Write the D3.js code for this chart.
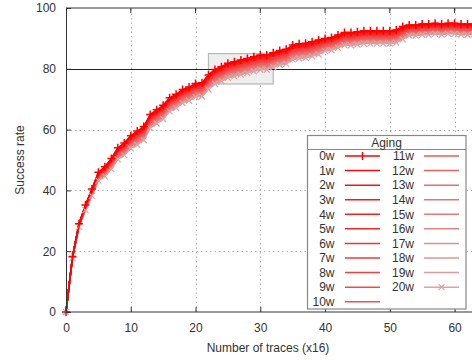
<!DOCTYPE html>
<html>
<head>
<meta charset="utf-8">
<script src="https://cdn.jsdelivr.net/npm/d3@7"></script>
<style>
  body { margin: 0; background: #fff; }
  svg { display: block; font-family: "Liberation Sans", Arial, sans-serif; }
</style>
</head>
<body>
<svg id="chart" width="472" height="360"></svg>
<script>
// x positions (number of traces, x16)
const traces = d3.range(0, 64);

// success rate per aging week
const aging0w  = [0,18.2,29,35.2,40.5,46,47.8,50.5,54,55.6,58, 59.5,61,65,66.5,68,70.5,71.6,73.2,74,75.2,75.4, 78,79.8,80.7,81.8,82.3,82.9,83.4,84,84.5,84.5,85.3,86,86.4,87.8,88.2,88.4,88.9,89.5, 90,90.3,91.1,91.9,91.9,92.2,92.5,92.5,92.5,92.5,92.5,92.8,93.9, 94.4,94.4,94.7,94.7,95,94.7,95,95,94.7,94.7,94.8];
const aging1w  = [0,18.2,28.9,35.1,40.4,45.9,47.6,50.3,53.8,55.4,57.8, 59.3,60.8,64.8,66.3,67.8,70.3,71.4,73,73.8,75,75.2, 77.8,79.6,80.5,81.6,82.1,82.7,83.2,83.8,84.3,84.3,85.1,85.8,86.2,87.6,88,88.2,88.7,89.3, 89.8,90.1,90.9,91.7,91.7,92,92.3,92.3,92.3,92.3,92.3,92.6,93.7, 94.2,94.2,94.5,94.5,94.8,94.5,94.8,94.8,94.5,94.5,94.6];
const aging2w  = [0,18.1,28.9,35,40.3,45.7,47.5,50.1,53.6,55.2,57.6, 59,60.5,64.5,66,67.5,70,71.1,72.7,73.5,74.7,74.9, 77.5,79.3,80.2,81.3,81.8,82.4,82.9,83.5,84,84,84.8,85.5,85.9,87.3,87.7,87.9,88.4,89, 89.6,89.9,90.7,91.5,91.5,91.8,92.1,92.1,92.1,92.1,92.1,92.4,93.5, 94,94,94.3,94.3,94.6,94.3,94.6,94.6,94.3,94.3,94.4];
const aging3w  = [0,18.1,28.8,34.9,40.2,45.6,47.3,50,53.4,55,57.4, 58.8,60.3,64.3,65.8,67.3,69.8,70.9,72.5,73.3,74.5,74.7, 77.3,79.1,80,81.1,81.6,82.2,82.7,83.3,83.8,83.8,84.6,85.3,85.7,87.1,87.5,87.7,88.2,88.8, 89.4,89.7,90.5,91.3,91.3,91.6,91.9,91.9,91.9,91.9,91.9,92.2,93.3, 93.9,93.9,94.2,94.2,94.5,94.2,94.5,94.5,94.2,94.2,94.3];
const aging4w  = [0,18.1,28.8,34.9,40,45.4,47.2,49.8,53.2,54.8,57.2, 58.6,60.1,64.1,65.6,67.1,69.6,70.7,72.3,73.1,74.3,74.5, 77,78.8,79.7,80.8,81.3,81.9,82.4,83,83.5,83.5,84.3,85,85.4,86.8,87.2,87.4,87.9,88.5, 89.2,89.5,90.3,91.1,91.1,91.4,91.7,91.7,91.7,91.7,91.7,92,93.1, 93.7,93.7,94,94,94.3,94,94.3,94.3,94,94,94.1];
const aging5w  = [0,18.1,28.7,34.8,39.9,45.3,47,49.6,53,54.6,56.9, 58.4,59.9,63.9,65.4,66.9,69.4,70.5,72.1,72.9,74.1,74.3, 76.8,78.6,79.5,80.6,81.1,81.7,82.2,82.8,83.3,83.3,84.1,84.8,85.2,86.6,87,87.2,87.7,88.3, 88.9,89.2,90,90.8,90.8,91.1,91.4,91.4,91.4,91.4,91.4,91.7,92.8, 93.5,93.5,93.8,93.8,94.1,93.8,94.1,94.1,93.8,93.8,93.9];
const aging6w  = [0,18,28.7,34.7,39.8,45.2,46.8,49.4,52.9,54.4,56.7, 58.1,59.6,63.6,65.1,66.6,69.1,70.2,71.8,72.6,73.8,74, 76.6,78.4,79.3,80.4,80.9,81.5,82,82.6,83.1,83.1,83.9,84.6,85,86.4,86.8,87,87.5,88.1, 88.7,89,89.8,90.6,90.6,90.9,91.2,91.2,91.2,91.2,91.2,91.5,92.6, 93.3,93.3,93.6,93.6,93.9,93.6,93.9,93.9,93.6,93.6,93.7];
const aging7w  = [0,18,28.6,34.6,39.7,45,46.7,49.3,52.7,54.2,56.5, 57.9,59.4,63.4,64.9,66.4,68.9,70,71.6,72.4,73.6,73.8, 76.3,78.1,79,80.1,80.6,81.2,81.7,82.3,82.8,82.8,83.6,84.3,84.7,86.1,86.5,86.7,87.2,87.8, 88.5,88.8,89.6,90.4,90.4,90.7,91,91,91,91,91,91.3,92.4, 93.2,93.2,93.5,93.5,93.8,93.5,93.8,93.8,93.5,93.5,93.6];
const aging8w  = [0,18,28.6,34.5,39.6,44.9,46.5,49.1,52.5,54,56.3, 57.7,59.2,63.2,64.7,66.2,68.7,69.8,71.4,72.2,73.4,73.6, 76.1,77.9,78.8,79.9,80.4,81,81.5,82.1,82.6,82.6,83.4,84.1,84.5,85.9,86.3,86.5,87,87.6, 88.3,88.6,89.4,90.2,90.2,90.5,90.8,90.8,90.8,90.8,90.8,91.1,92.2, 93,93,93.3,93.3,93.6,93.3,93.6,93.6,93.3,93.3,93.4];
const aging9w  = [0,18,28.5,34.4,39.5,44.7,46.4,48.9,52.3,53.8,56.1, 57.5,59,63,64.5,66,68.5,69.6,71.2,72,73.2,73.4, 75.8,77.6,78.5,79.6,80.1,80.7,81.2,81.8,82.3,82.3,83.1,83.8,84.2,85.6,86,86.2,86.7,87.3, 88.1,88.4,89.2,90,90,90.3,90.6,90.6,90.6,90.6,90.6,90.9,92, 92.8,92.8,93.1,93.1,93.4,93.1,93.4,93.4,93.1,93.1,93.2];
const aging10w = [0,17.9,28.5,34.3,39.3,44.6,46.2,48.7,52.1,53.6,55.9, 57.2,58.7,62.7,64.2,65.7,68.2,69.3,70.9,71.7,72.9,73.1, 75.6,77.4,78.3,79.4,79.9,80.5,81,81.6,82.1,82.1,82.9,83.6,84,85.4,85.8,86,86.5,87.1, 87.9,88.2,89,89.8,89.8,90.1,90.4,90.4,90.4,90.4,90.4,90.7,91.8, 92.6,92.6,92.9,92.9,93.2,92.9,93.2,93.2,92.9,92.9,93];
const aging11w = [0,17.9,28.4,34.3,39.2,44.5,46,48.6,51.9,53.4,55.7, 57,58.5,62.5,64,65.5,68,69.1,70.7,71.5,72.7,72.9, 75.4,77.2,78.1,79.2,79.7,80.3,80.8,81.4,81.9,81.9,82.7,83.4,83.8,85.2,85.6,85.8,86.3,86.9, 87.7,88,88.8,89.6,89.6,89.9,90.2,90.2,90.2,90.2,90.2,90.5,91.6, 92.5,92.5,92.8,92.8,93.1,92.8,93.1,93.1,92.8,92.8,92.9];
const aging12w = [0,17.9,28.4,34.2,39.1,44.3,45.9,48.4,51.7,53.2,55.5, 56.8,58.3,62.3,63.8,65.3,67.8,68.9,70.5,71.3,72.5,72.7, 75.1,76.9,77.8,78.9,79.4,80,80.5,81.1,81.6,81.6,82.4,83.1,83.5,84.9,85.3,85.5,86,86.6, 87.5,87.8,88.6,89.4,89.4,89.7,90,90,90,90,90,90.3,91.4, 92.3,92.3,92.6,92.6,92.9,92.6,92.9,92.9,92.6,92.6,92.7];
const aging13w = [0,17.9,28.3,34.1,39,44.2,45.7,48.2,51.5,53,55.3, 56.6,58.1,62.1,63.6,65.1,67.6,68.7,70.3,71.1,72.3,72.5, 74.9,76.7,77.6,78.7,79.2,79.8,80.3,80.9,81.4,81.4,82.2,82.9,83.3,84.7,85.1,85.3,85.8,86.4, 87.3,87.6,88.4,89.2,89.2,89.5,89.8,89.8,89.8,89.8,89.8,90.1,91.2, 92.1,92.1,92.4,92.4,92.7,92.4,92.7,92.7,92.4,92.4,92.5];
const aging14w = [0,17.8,28.3,34,38.9,44,45.6,48,51.3,52.8,55.1, 56.3,57.8,61.8,63.3,64.8,67.3,68.4,70,70.8,72,72.2, 74.6,76.4,77.3,78.4,78.9,79.5,80,80.6,81.1,81.1,81.9,82.6,83,84.4,84.8,85,85.5,86.1, 87.1,87.4,88.2,89,89,89.3,89.6,89.6,89.6,89.6,89.6,89.9,91, 91.9,91.9,92.2,92.2,92.5,92.2,92.5,92.5,92.2,92.2,92.3];
const aging15w = [0,17.8,28.2,33.9,38.8,43.9,45.4,47.9,51.1,52.6,54.8, 56.1,57.6,61.6,63.1,64.6,67.1,68.2,69.8,70.6,71.8,72, 74.4,76.2,77.1,78.2,78.7,79.3,79.8,80.4,80.9,80.9,81.7,82.4,82.8,84.2,84.6,84.8,85.3,85.9, 86.8,87.1,87.9,88.7,88.7,89,89.3,89.3,89.3,89.3,89.3,89.6,90.7, 91.8,91.8,92.1,92.1,92.4,92.1,92.4,92.4,92.1,92.1,92.2];
const aging16w = [0,17.8,28.2,33.8,38.7,43.8,45.2,47.7,51,52.4,54.6, 55.9,57.4,61.4,62.9,64.4,66.9,68,69.6,70.4,71.6,71.8, 74.2,76,76.9,78,78.5,79.1,79.6,80.2,80.7,80.7,81.5,82.2,82.6,84,84.4,84.6,85.1,85.7, 86.6,86.9,87.7,88.5,88.5,88.8,89.1,89.1,89.1,89.1,89.1,89.4,90.5, 91.6,91.6,91.9,91.9,92.2,91.9,92.2,92.2,91.9,91.9,92];
const aging17w = [0,17.8,28.1,33.8,38.5,43.6,45.1,47.5,50.8,52.2,54.4, 55.7,57.2,61.2,62.7,64.2,66.7,67.8,69.4,70.2,71.4,71.6, 73.9,75.7,76.6,77.7,78.2,78.8,79.3,79.9,80.4,80.4,81.2,81.9,82.3,83.7,84.1,84.3,84.8,85.4, 86.4,86.7,87.5,88.3,88.3,88.6,88.9,88.9,88.9,88.9,88.9,89.2,90.3, 91.4,91.4,91.7,91.7,92,91.7,92,92,91.7,91.7,91.8];
const aging18w = [0,17.7,28.1,33.7,38.4,43.5,44.9,47.3,50.6,52,54.2, 55.4,56.9,60.9,62.4,63.9,66.4,67.5,69.1,69.9,71.1,71.3, 73.7,75.5,76.4,77.5,78,78.6,79.1,79.7,80.2,80.2,81,81.7,82.1,83.5,83.9,84.1,84.6,85.2, 86.2,86.5,87.3,88.1,88.1,88.4,88.7,88.7,88.7,88.7,88.7,89,90.1, 91.2,91.2,91.5,91.5,91.8,91.5,91.8,91.8,91.5,91.5,91.6];
const aging19w = [0,17.7,28,33.6,38.3,43.3,44.8,47.2,50.4,51.8,54, 55.2,56.7,60.7,62.2,63.7,66.2,67.3,68.9,69.7,70.9,71.1, 73.4,75.2,76.1,77.2,77.7,78.3,78.8,79.4,79.9,79.9,80.7,81.4,81.8,83.2,83.6,83.8,84.3,84.9, 86,86.3,87.1,87.9,87.9,88.2,88.5,88.5,88.5,88.5,88.5,88.8,89.9, 91.1,91.1,91.4,91.4,91.7,91.4,91.7,91.7,91.4,91.4,91.5];
const aging20w = [0,17.7,28,33.5,38.2,43.2,44.6,47,50.2,51.6,53.8, 55,56.5,60.5,62,63.5,66,67.1,68.7,69.5,70.7,70.9, 73.2,75,75.9,77,77.5,78.1,78.6,79.2,79.7,79.7,80.5,81.2,81.6,83,83.4,83.6,84.1,84.7, 85.8,86.1,86.9,87.7,87.7,88,88.3,88.3,88.3,88.3,88.3,88.6,89.7, 90.9,90.9,91.2,91.2,91.5,91.2,91.5,91.5,91.2,91.2,91.3];

const seriesNames = ["0w","1w","2w","3w","4w","5w","6w","7w","8w","9w","10w",
  "11w","12w","13w","14w","15w","16w","17w","18w","19w","20w"];
const seriesValues = [aging0w, aging1w, aging2w, aging3w, aging4w, aging5w, aging6w,
  aging7w, aging8w, aging9w, aging10w, aging11w, aging12w, aging13w, aging14w,
  aging15w, aging16w, aging17w, aging18w, aging19w, aging20w];

const xTicks = [0, 10, 20, 30, 40, 50, 60];
const yTicks = [0, 20, 40, 60, 80, 100];
const gridX = [10, 20, 30, 40, 50, 60];
const gridY = [20, 40, 60];
const threshold = 80;
const zoomBox = {x0: 22, x1: 32, y0: 75, y1: 85};

const svg = d3.select("#chart");

const x = d3.scaleLinear().domain([0, 63]).range([66, 474]);
const y = d3.scaleLinear().domain([0, 100]).range([312, 8]);

const color = d3.scaleLinear()
  .domain([0, 20])
  .range(["#ff0000", "#dca4a4"])
  .interpolate(d3.interpolateRgb);

// grid
const grid = svg.append("g")
  .attr("stroke", "#b0b0b0")
  .attr("stroke-width", 1)
  .attr("stroke-dasharray", "1.5,3");
grid.selectAll(".gx").data(gridX).join("line")
  .attr("x1", d => Math.round(x(d)) + 0.5).attr("x2", d => Math.round(x(d)) + 0.5)
  .attr("y1", y(0)).attr("y2", y(100));
grid.selectAll(".gy").data(gridY).join("line")
  .attr("y1", d => Math.round(y(d)) + 0.5).attr("y2", d => Math.round(y(d)) + 0.5)
  .attr("x1", x(0)).attr("x2", 472);

// gray zoom rectangle
svg.append("rect")
  .attr("x", x(zoomBox.x0))
  .attr("y", y(zoomBox.y1))
  .attr("width", x(zoomBox.x1) - x(zoomBox.x0))
  .attr("height", y(zoomBox.y0) - y(zoomBox.y1))
  .attr("fill", "#eeeeee")
  .attr("stroke", "#b8b8b8")
  .attr("stroke-width", 1.2);

// threshold line
svg.append("line")
  .attr("x1", x(0)).attr("x2", 472)
  .attr("y1", Math.round(y(threshold)) + 0.5).attr("y2", Math.round(y(threshold)) + 0.5)
  .attr("stroke", "#222").attr("stroke-width", 1);

// curves (draw faded ones first so 0w ends on top)
const line = d3.line()
  .x((d, i) => x(traces[i]))
  .y(d => y(d));

const curves = svg.append("g").attr("fill", "none");
const order = d3.range(seriesValues.length).reverse();
order.forEach(k => {
  curves.append("path")
    .datum(seriesValues[k])
    .attr("d", line)
    .attr("stroke", color(k))
    .attr("stroke-width", 1.5);
});

// markers for 20w (x) and 0w (+)
const m = 3;
curves.append("g")
  .attr("stroke", color(20)).attr("stroke-width", 1.2)
  .selectAll("path").data(aging20w).join("path")
  .attr("d", (d, i) => {
    const cx = x(traces[i]), cy = y(d);
    return `M${cx - m},${cy - m}L${cx + m},${cy + m}M${cx - m},${cy + m}L${cx + m},${cy - m}`;
  });
curves.append("g")
  .attr("stroke", color(0)).attr("stroke-width", 1.5)
  .selectAll("path").data(aging0w).join("path")
  .attr("d", (d, i) => {
    const cx = x(traces[i]), cy = y(d);
    return `M${cx - 4},${cy}L${cx + 4},${cy}M${cx},${cy - 4}L${cx},${cy + 4}`;
  });

// axes
const xAxis = d3.axisBottom(x).tickValues(xTicks).tickSize(-5).tickPadding(11);
const yAxis = d3.axisLeft(y).tickValues(yTicks).tickSize(-5).tickPadding(10);

const gx = svg.append("g").attr("transform", `translate(0,${y(0)})`).call(xAxis);
const gy = svg.append("g").attr("transform", `translate(${x(0)},0)`).call(yAxis);
[gx, gy].forEach(g => {
  g.select(".domain").attr("stroke", "#333");
  g.selectAll(".tick line").attr("stroke", "#333");
  g.selectAll(".tick text").attr("fill", "#333").style("font-size", "12px")
    .style("font-family", "Liberation Sans, Arial, sans-serif");
});
gx.select(".domain").attr("d", `M${x(0)},0H474`);

// top border with mirrored ticks
svg.append("line").attr("x1", x(0)).attr("x2", 472)
  .attr("y1", y(100)).attr("y2", y(100)).attr("stroke", "#333");
svg.append("g").selectAll("line").data(xTicks.filter(d => d > 0)).join("line")
  .attr("x1", d => x(d)).attr("x2", d => x(d))
  .attr("y1", y(100)).attr("y2", y(100) + 5)
  .attr("stroke", "#333");

// axis titles
svg.append("text")
  .attr("transform", `translate(24,${(y(0) + y(100)) / 2}) rotate(-90)`)
  .attr("text-anchor", "middle")
  .attr("fill", "#333")
  .style("font-size", "12px")
  .text("Success rate");
svg.append("text")
  .attr("x", 268).attr("y", 352)
  .attr("text-anchor", "middle")
  .attr("fill", "#333")
  .style("font-size", "12px")
  .text("Number of traces (x16)");

// legend
const lg = svg.append("g");
lg.append("rect")
  .attr("x", 307.5).attr("y", 135.5)
  .attr("width", 158.5).attr("height", 173.5)
  .attr("fill", "#fff")
  .attr("stroke", "#888").attr("stroke-width", 1.2);
lg.append("line")
  .attr("x1", 307.5).attr("x2", 466).attr("y1", 149.5).attr("y2", 149.5)
  .attr("stroke", "#888").attr("stroke-width", 1.2);
lg.append("text")
  .attr("x", 386.5).attr("y", 147)
  .attr("text-anchor", "middle")
  .attr("fill", "#333")
  .style("font-size", "12px")
  .text("Aging");

const rowH = 14.57;
seriesNames.forEach((name, k) => {
  const col = k < 11 ? 0 : 1;
  const row = k < 11 ? k : k - 11;
  const cy = 156 + row * rowH;
  const tx = col === 0 ? 334.5 : 414;
  const lx0 = col === 0 ? 345 : 424;
  const lx1 = lx0 + 35;
  lg.append("text")
    .attr("x", tx).attr("y", cy + 4.3)
    .attr("text-anchor", "end")
    .attr("fill", "#333")
    .style("font-size", "12px")
    .text(name);
  lg.append("line")
    .attr("x1", lx0).attr("x2", lx1).attr("y1", cy).attr("y2", cy)
    .attr("stroke", color(k)).attr("stroke-width", 1.5);
  const mx = (lx0 + lx1) / 2;
  if (k === 0) {
    lg.append("path").attr("d", `M${mx},${cy - 4}L${mx},${cy + 4}`)
      .attr("stroke", color(k)).attr("stroke-width", 1.5);
  }
  if (k === 20) {
    lg.append("path")
      .attr("d", `M${mx - m},${cy - m}L${mx + m},${cy + m}M${mx - m},${cy + m}L${mx + m},${cy - m}`)
      .attr("stroke", color(k)).attr("stroke-width", 1.2);
  }
});
</script>
</body>
</html>
